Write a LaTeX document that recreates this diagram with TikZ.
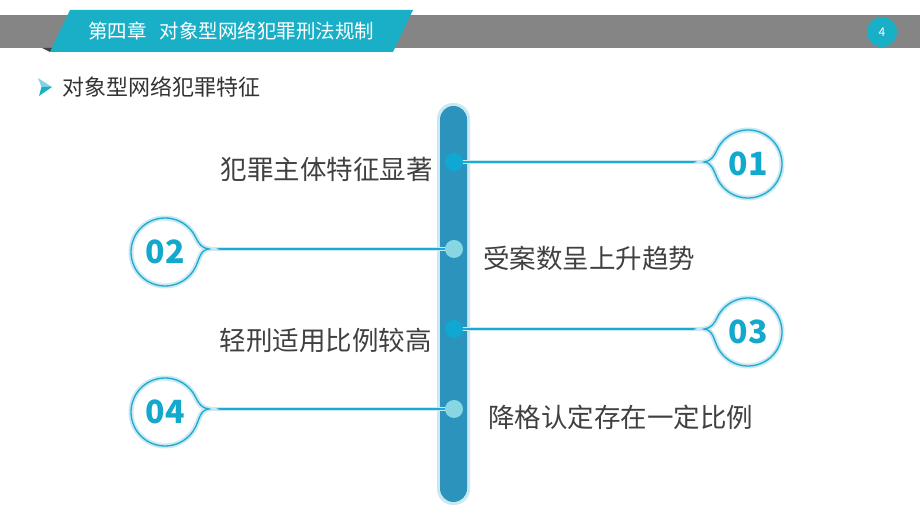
\documentclass[tikz,border=0pt]{standalone}
\usepackage{fontspec}
\setmainfont{Noto Sans CJK SC}
\usetikzlibrary{calc}
\definecolor{bandgray}{HTML}{858585}
\definecolor{teal1}{HTML}{19AFC6}
\definecolor{teallight}{HTML}{7FD3E2}
\definecolor{barblue}{HTML}{2C93BC}
\definecolor{glow}{HTML}{C9E8F1}
\definecolor{linecol}{HTML}{1AAAD2}
\definecolor{dotdark}{HTML}{0FA8D2}
\definecolor{dotlight}{HTML}{86D6E4}
\definecolor{numcol}{HTML}{13A9CC}
\definecolor{txtgray}{HTML}{404040}
\tikzset{
  conn/.style={draw=linecol, line width=1.4pt},
  connglow/.style={draw=glow, line width=4.5pt},
  dot/.style={circle, minimum size=18pt, inner sep=0pt, outer sep=0pt},
  numnode/.style={circle, minimum size=68pt, inner sep=0pt, outer sep=0pt, fill=white,
    font=\fontsize{32}{36}\selectfont\bfseries, text=numcol},
  bubble/.style={draw=linecol, line width=1.3pt},
  bubbleglow/.style={draw=glow, line width=5pt, fill=white},
  stmt/.style={inner sep=0pt, text=txtgray, font=\fontsize{26.5}{30}\selectfont},
}
\begin{document}
\begin{tikzpicture}[x=1pt,y=1pt]
\useasboundingbox (0,0) rectangle (920,518);
% header
\fill[bandgray] (0,470) rectangle (920,503);
\fill[gray!50!black] (42,470) -- (54,470) -- (50,466) -- cycle;
\fill[teal1] (70,508) -- (413,508) -- (393,466) -- (50,466) -- cycle;
\node[anchor=west, inner sep=0pt, text=white, font=\fontsize{19.5}{22}\selectfont] (title) at (88,487) {第四章\hspace{13pt}对象型网络犯罪刑法规制};
\node[circle, fill=teal1, minimum size=30pt, inner sep=0pt, text=white, font=\fontsize{12}{14}\selectfont] (page) at (882,486) {4};
% subtitle
\fill[teallight] (38,440) -- (52,431) -- (41.5,431) -- cycle;
\fill[teal1] (41.5,431) -- (52,431) -- (39,422) -- cycle;
\node[anchor=west, inner sep=0pt, text=black!80, font=\fontsize{22}{26}\selectfont] (sub) at (62,431) {对象型网络犯罪特征};
% bar
\node[fill=glow, rounded corners=16pt, minimum width=33pt, minimum height=402pt, inner sep=0pt] (barglow) at (453.5,214) {};
\node[fill=barblue, rounded corners=13.5pt, minimum width=27pt, minimum height=396pt, inner sep=0pt] (bar) at (453.5,214) {};
% dots
\node[dot] (d1) at (454,356) {};
\node[dot] (d2) at (454,269) {};
\node[dot] (d3) at (454,189) {};
\node[dot] (d4) at (454,109) {};
% callout circles
\node[numnode] (c1) at (748,354) {01};
\node[numnode] (c2) at (165,266) {02};
\node[numnode] (c3) at (748,186) {03};
\node[numnode] (c4) at (165,106) {04};
\coordinate (t1) at (704,356);
\coordinate (t2) at (209,269);
\coordinate (t3) at (704,189);
\coordinate (t4) at (209,109);
% connectors
\foreach \i in {1,2,3,4} { \draw[connglow] (d\i.center) -- (t\i); }
\foreach \i in {1,2,3,4} { \draw[conn] (d\i.center) -- (t\i); }
\fill[dotdark] (d1) circle (9pt);
\fill[dotlight] (d2) circle (9pt);
\fill[dotdark] (d3) circle (9pt);
\fill[dotlight] (d4) circle (9pt);
% bubbles (right side, tail left)
\foreach \i in {1,3} {
  \draw[bubbleglow] (t\i) to[out=5,in=-115] (c\i.155) arc[start angle=155, end angle=-155, radius=34pt] to[out=115,in=-5] (t\i) -- cycle;
  \draw[bubble] (t\i) to[out=5,in=-115] (c\i.155) arc[start angle=155, end angle=-155, radius=34pt] to[out=115,in=-5] (t\i) -- cycle;
}
% bubbles (left side, tail right)
\foreach \i in {2,4} {
  \draw[bubbleglow] (t\i) to[out=175,in=-65] (c\i.25) arc[start angle=25, end angle=335, radius=34pt] to[out=65,in=185] (t\i) -- cycle;
  \draw[bubble] (t\i) to[out=175,in=-65] (c\i.25) arc[start angle=25, end angle=335, radius=34pt] to[out=65,in=185] (t\i) -- cycle;
}
\node[numnode, fill=none] at (c1) {01};
\node[numnode, fill=none] at (c2) {02};
\node[numnode, fill=none] at (c3) {03};
\node[numnode, fill=none] at (c4) {04};
% statements
\node[stmt, anchor=east] (s1) at (433,349) {犯罪主体特征显著};
\node[stmt, anchor=west] (s2) at (483,260) {受案数呈上升趋势};
\node[stmt, anchor=east] (s3) at (432,178) {轻刑适用比例较高};
\node[stmt, anchor=west] (s4) at (488,101) {降格认定存在一定比例};
\end{tikzpicture}
\end{document}
